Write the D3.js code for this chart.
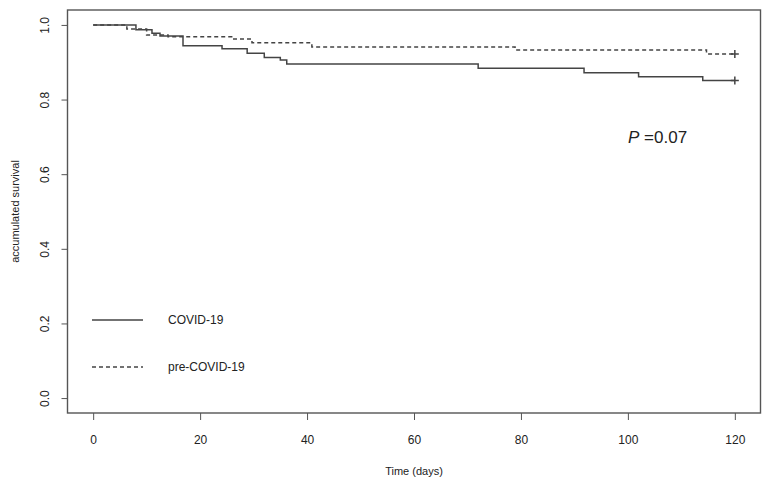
<!DOCTYPE html>
<html>
<head>
<meta charset="utf-8">
<script src="https://cdn.jsdelivr.net/npm/d3@7"></script>
<style>
  body { margin: 0; background: #fff; }
  text { font-family: "Liberation Sans", Arial, sans-serif; fill: #222; }
</style>
</head>
<body>
<script>
// Kaplan-Meier steps (days, survival)
var covidTimes = [0, 8, 11, 12.5, 16.8, 24.1, 28.8, 32, 35, 36.2, 72, 91.8, 102, 114, 120];
var covidSurv  = [1, 0.987, 0.978, 0.970, 0.944, 0.936, 0.924, 0.913, 0.906, 0.895, 0.884, 0.872, 0.861, 0.851, 0.851];
var preTimes = [0, 6.3, 10, 14, 25.9, 29.7, 40.9, 78.9, 114.7, 120];
var preSurv  = [1, 0.989, 0.973, 0.968, 0.962, 0.952, 0.941, 0.933, 0.922, 0.922];
var xTicks = [0, 20, 40, 60, 80, 100, 120];
var yTicks = [0, 0.2, 0.4, 0.6, 0.8, 1.0];
var legendLabels = ["COVID-19", "pre-COVID-19"];

var width = 765;
var height = 486;
var lineColor = "#444";
var axisColor = "#555";

var svg = d3.select("body").append("svg")
    .attr("width", width)
    .attr("height", height);

// R style: domain padded 4% on each side
var x = d3.scaleLinear().domain([-4.8, 124.8]).range([67.5, 760.5]);
var y = d3.scaleLinear().domain([-0.04, 1.04]).range([413, 10]);

/*
 * AXES
 */
var xAxis = svg.append("g")
    .attr("transform", "translate(0,413)")
    .call(d3.axisBottom(x).tickValues(xTicks).tickSize(7).tickPadding(15));
xAxis.select(".domain").remove();
xAxis.selectAll("line").style("stroke", axisColor);
xAxis.selectAll("text").style("font-size", "12px").style("font-family", null).attr("fill", "#222");

var yAxis = svg.append("g")
    .attr("transform", "translate(67.5,0)")
    .call(d3.axisLeft(y).tickValues(yTicks).tickSize(6).tickFormat(d3.format(".1f")));
yAxis.select(".domain").remove();
yAxis.selectAll("line").style("stroke", axisColor);
yAxis.selectAll("text")
    .style("font-size", "12px").style("font-family", null).attr("fill", "#222")
    .attr("x", null).attr("dy", null)
    .attr("text-anchor", "middle")
    .attr("transform", "translate(-19,0) rotate(-90)");

// plot box
svg.append("rect")
    .attr("x", x.range()[0])
    .attr("y", y.range()[1])
    .attr("width", x.range()[1] - x.range()[0])
    .attr("height", y.range()[0] - y.range()[1])
    .style("fill", "none")
    .style("stroke", axisColor)
    .style("stroke-width", 1.4);

svg.append("text")
    .attr("x", (x(0) + x(120)) / 2)
    .attr("y", 475)
    .attr("text-anchor", "middle")
    .style("font-size", "11px")
    .text("Time (days)");

svg.append("text")
    .attr("transform", "translate(19," + ((y(0) + y(1)) / 2) + ") rotate(-90)")
    .attr("text-anchor", "middle")
    .style("font-size", "11px")
    .text("accumulated survival");

/*
 * CURVES
 */
var line = d3.line()
    .x(function(d){ return x(d[0]); })
    .y(function(d){ return y(d[1]); })
    .curve(d3.curveStepAfter);

var series = [
    { times: covidTimes, surv: covidSurv, dash: null },
    { times: preTimes, surv: preSurv, dash: "4,3" }
];

series.forEach(function(s){
    var pts = s.times.map(function(t, i){ return [t, s.surv[i]]; });
    svg.append("path")
        .datum(pts)
        .attr("d", line)
        .style("fill", "none")
        .style("stroke", lineColor)
        .style("stroke-width", 1.5)
        .style("stroke-dasharray", s.dash);

    // censor mark at the end
    var last = pts[pts.length - 1];
    svg.append("path")
        .attr("transform", "translate(" + x(last[0]) + "," + y(last[1]) + ")")
        .attr("d", "M-4,0H4M0,-4V4")
        .style("stroke", lineColor)
        .style("stroke-width", 1.5);
});

/*
 * LEGEND
 */
var legend = svg.append("g");
legendLabels.forEach(function(label, i){
    var ly = 320 + i * 47;
    legend.append("line")
        .attr("x1", 92).attr("x2", 143)
        .attr("y1", ly).attr("y2", ly)
        .style("stroke", lineColor)
        .style("stroke-width", 1.5)
        .style("stroke-dasharray", series[i].dash);
    legend.append("text")
        .attr("x", 168)
        .attr("y", ly + 4)
        .style("font-size", "12px")
        .text(label);
});

var pText = svg.append("text")
    .attr("x", 628)
    .attr("y", 143)
    .style("font-size", "17px");
pText.append("tspan").style("font-style", "italic").text("P");
pText.append("tspan").text(" =0.07");
</script>
</body>
</html>
